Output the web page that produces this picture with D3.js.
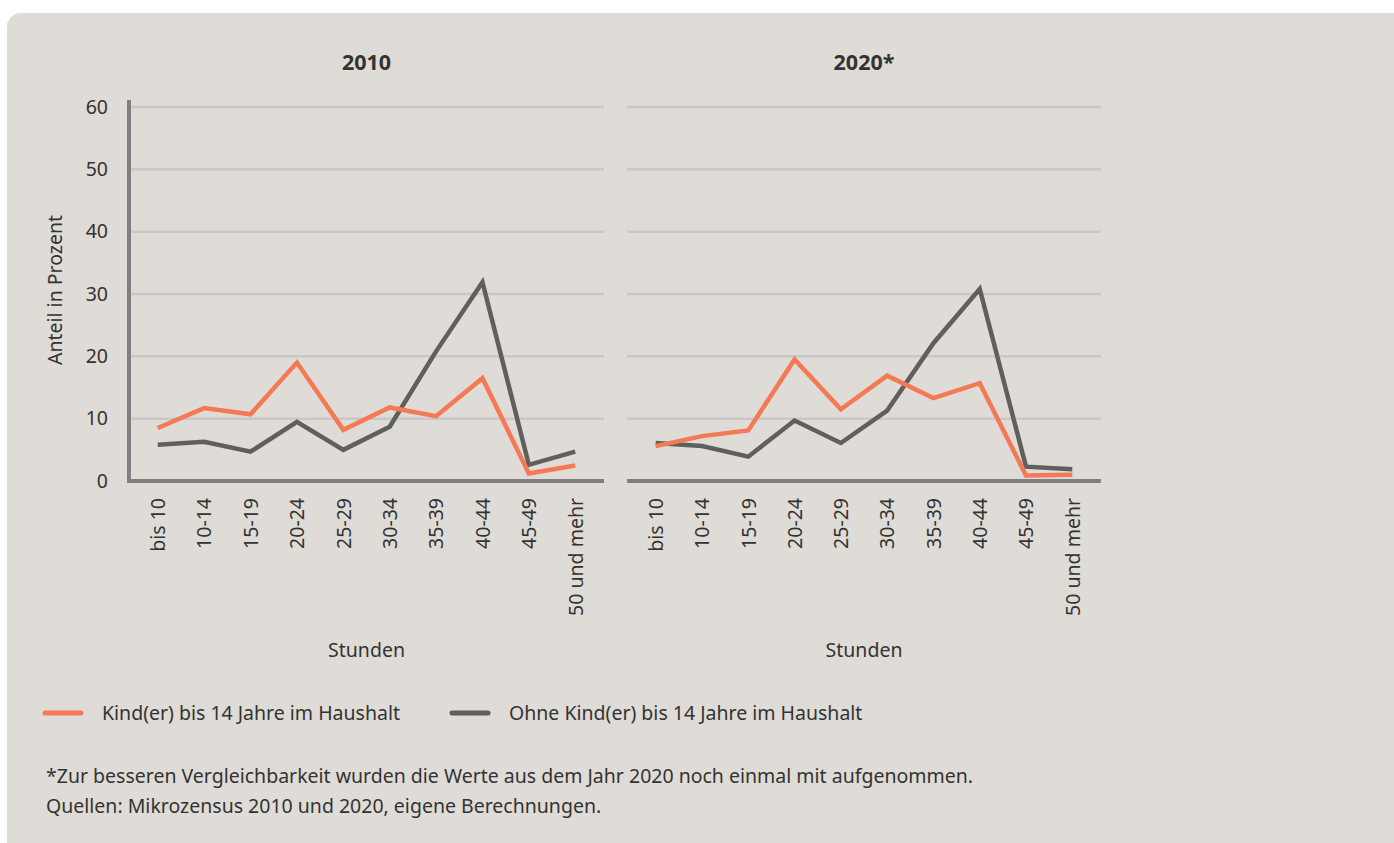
<!DOCTYPE html>
<html>
<head>
<meta charset="utf-8">
<script src="https://cdn.jsdelivr.net/npm/d3@7"></script>
<style>
  body { margin: 0; background: #fff; }
  svg { display: block; font-family: "Noto Sans", sans-serif; }
</style>
</head>
<body>
<svg width="1394" height="843"></svg>
<script>
var categories = ['bis 10', '10-14', '15-19', '20-24', '25-29', '30-34', '35-39', '40-44', '45-49', '50 und mehr'];
var yTicks = [0, 10, 20, 30, 40, 50, 60];
var panelTitles = ['2010', '2020*'];
var seriesNames = ['Kind(er) bis 14 Jahre im Haushalt', 'Ohne Kind(er) bis 14 Jahre im Haushalt'];
var seriesColors = ['#f47a55', '#5f5f5e'];

var kind2010 = [8.5, 11.7, 10.7, 19.0, 8.2, 11.8, 10.4, 16.5, 1.2, 2.5];
var ohne2010 = [5.8, 6.3, 4.7, 9.5, 5.0, 8.7, 20.8, 31.9, 2.6, 4.7];
var kind2020 = [5.6, 7.2, 8.1, 19.5, 11.5, 16.9, 13.3, 15.7, 0.9, 1.0];
var ohne2020 = [6.1, 5.6, 3.9, 9.7, 6.1, 11.3, 22.1, 30.8, 2.3, 1.9];

var fs = 19.5;
var svg = d3.select('svg');

svg.append('rect')
    .attr('x', 7).attr('y', 13)
    .attr('width', 1400).attr('height', 850)
    .attr('rx', 14)
    .attr('fill', '#dfdbd6');

var yScale = d3.scaleLinear()
    .domain([0, 60])
    .range([481, 107]);

var panels = [
    { x0: 129, x1: 604, title: panelTitles[0], data: [kind2010, ohne2010], yAxis: true },
    { x0: 627, x1: 1101, title: panelTitles[1], data: [kind2020, ohne2020], yAxis: false }
];

panels.forEach(function(p) {
    var xScale = d3.scalePoint()
        .domain(categories)
        .range([p.x0, p.x1])
        .padding(0.62);

    var g = svg.append('g');

    // gridlines
    g.append('g')
        .selectAll('line')
        .data(yTicks.filter(function(d) { return d > 0; }))
        .enter().append('line')
        .attr('x1', p.x0).attr('x2', p.x1)
        .attr('y1', function(d) { return yScale(d); })
        .attr('y2', function(d) { return yScale(d); })
        .attr('stroke', '#c9c7c8')
        .attr('stroke-width', 2.5);

    g.append('text')
        .attr('x', (p.x0 + p.x1) / 2)
        .attr('y', 70)
        .attr('text-anchor', 'middle')
        .attr('font-size', 21.5)
        .attr('font-weight', 'bold')
        .attr('fill', '#333')
        .text(p.title);

    // x axis
    var xAxis = g.append('g')
        .attr('transform', 'translate(0,481)')
        .call(d3.axisBottom(xScale).tickSize(0).tickPadding(0));
    xAxis.select('.domain')
        .attr('d', 'M' + p.x0 + ',0H' + p.x1)
        .attr('stroke', '#808083')
        .attr('stroke-width', 4);
    xAxis.selectAll('.tick text')
        .attr('transform', 'rotate(-90)')
        .attr('text-anchor', 'end')
        .attr('x', -17)
        .attr('y', 0)
        .attr('dy', '0.35em')
        .attr('font-size', fs)
        .attr('font-family', '"Noto Sans", sans-serif')
        .attr('fill', '#333');

    g.append('text')
        .attr('x', (p.x0 + p.x1) / 2)
        .attr('y', 657)
        .attr('text-anchor', 'middle')
        .attr('font-size', fs)
        .attr('fill', '#333')
        .text('Stunden');

    if (p.yAxis) {
        var yAxis = g.append('g')
            .attr('transform', 'translate(' + p.x0 + ',0)')
            .call(d3.axisLeft(yScale).tickValues(yTicks).tickSize(0).tickPadding(21));
        yAxis.select('.domain')
            .attr('d', 'M0,100V483')
            .attr('stroke', '#808083')
            .attr('stroke-width', 4);
        yAxis.selectAll('.tick text')
            .attr('font-size', fs)
            .attr('font-family', '"Noto Sans", sans-serif')
            .attr('fill', '#333');

        g.append('text')
            .attr('transform', 'translate(62,' + ((107 + 481) / 2 - 4) + ') rotate(-90)')
            .attr('text-anchor', 'middle')
            .attr('font-size', fs)
            .attr('fill', '#333')
            .text('Anteil in Prozent');
    }

    var line = d3.line()
        .x(function(d, i) { return xScale(categories[i]); })
        .y(function(d) { return yScale(d); });

    // gray first, orange on top
    [1, 0].forEach(function(k) {
        g.append('path')
            .datum(p.data[k])
            .attr('d', line)
            .attr('fill', 'none')
            .attr('stroke', seriesColors[k])
            .attr('stroke-width', 4.5)
            .attr('stroke-linejoin', 'miter');
    });
});

// legend
var legendX = [43, 450];
seriesNames.forEach(function(name, i) {
    var lg = svg.append('g').attr('transform', 'translate(' + legendX[i] + ',713)');
    lg.append('line')
        .attr('x1', 2).attr('x2', 38)
        .attr('stroke', seriesColors[i])
        .attr('stroke-width', 5)
        .attr('stroke-linecap', 'round');
    lg.append('text')
        .attr('x', 59)
        .attr('dy', '0.35em')
        .attr('font-size', fs)
        .attr('fill', '#333')
        .text(name);
});

// footnotes
var notes = ['*Zur besseren Vergleichbarkeit wurden die Werte aus dem Jahr 2020 noch einmal mit aufgenommen.',
             'Quellen: Mikrozensus 2010 und 2020, eigene Berechnungen.'];
svg.append('g')
    .selectAll('text')
    .data(notes)
    .enter().append('text')
    .attr('x', 46)
    .attr('y', function(d, i) { return 776 + i * 30; })
    .attr('dy', '0.35em')
    .attr('font-size', fs)
    .attr('fill', '#333')
    .text(function(d) { return d; });
</script>
</body>
</html>
